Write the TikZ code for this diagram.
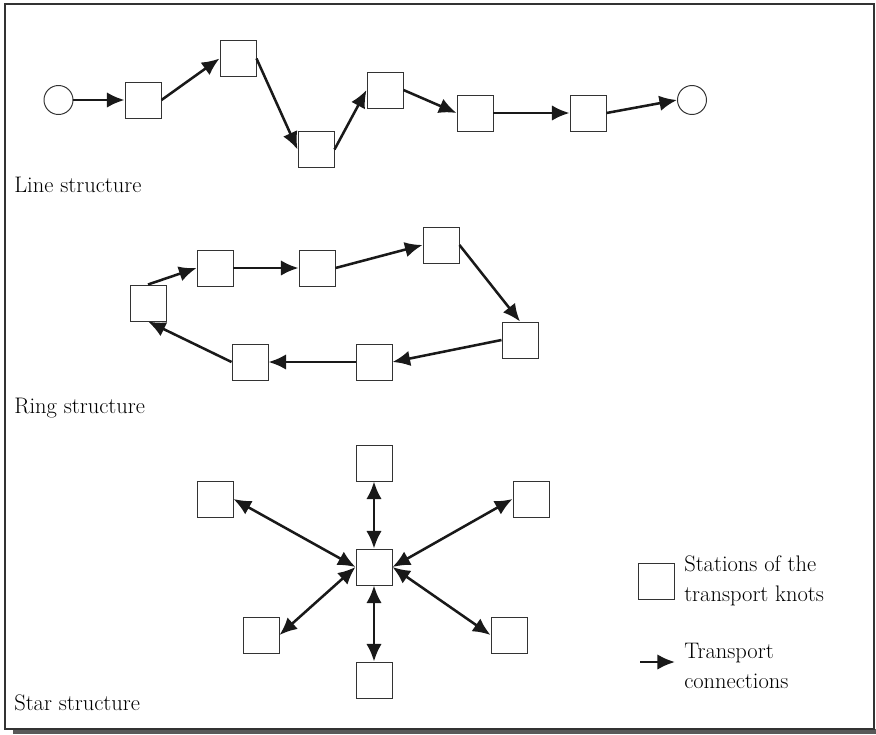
\documentclass[tikz,border=0pt]{standalone}
\usepackage{tikz}
\usetikzlibrary{positioning, arrows.meta}

\begin{document}
\begin{tikzpicture}[
  knot/.style={draw=black!80, fill=white, line width=0.7pt, minimum size=0.9cm, inner sep=0pt},
  endpt/.style={circle, draw=black!80, fill=white, line width=0.7pt, minimum size=0.725cm, inner sep=0pt},
  conn/.style={-{Latex[length=12.5pt, width=11pt]}, line width=1.8pt, black!90},
  biconn/.style={{Latex[length=12.5pt, width=11pt]}-{Latex[length=12.5pt, width=11pt]}, line width=1.8pt, black!90},
  lbl/.style={font=\fontsize{16}{21}\selectfont, text=black, inner sep=0pt},
]
  \useasboundingbox (0,0) rectangle (21.9,-18.35);
  % frame with shadow
  \fill[black!65] (0.325,-18.225) rectangle (21.9,-18.35);
  \draw[black!80, line width=0.8pt] (0.125,-0.1) rectangle (21.85,-18.225);

  % Line structure
  \node[endpt] (lstart) at (1.4625,-2.5) {};
  \node[knot] (l1) at (3.575,-2.5) {};
  \node[knot] (l2) at (5.95,-1.4625) {};
  \node[knot] (l3) at (7.9,-3.7375) {};
  \node[knot] (l4) at (9.625,-2.25) {};
  \node[knot] (l5) at (11.875,-2.825) {};
  \node[knot] (l6) at (14.7,-2.825) {};
  \node[endpt] (lend) at (17.3,-2.5) {};
  \foreach \a/\b in {lstart/l1, l1/l2, l2/l3, l3/l4, l4/l5, l5/l6, l6/lend} { \draw[conn] (\a.east) -- (\b.west); }
  \node[lbl, anchor=base west] (linelbl) at (0.35,-4.8) {Line structure};

  % Ring structure
  \node[knot] (r1) at (3.7,-7.575) {};
  \node[knot] (r2) at (5.375,-6.7) {};
  \node[knot] (r3) at (7.925,-6.7) {};
  \node[knot] (r4) at (11.025,-6.125) {};
  \node[knot] (r5) at (13.0,-8.5) {};
  \node[knot] (r6) at (9.35,-9.05) {};
  \node[knot] (r7) at (6.25,-9.05) {};
  \foreach \a/\b in {r1.north/r2.west, r2.east/r3.west, r3.east/r4.west, r4.east/r5.north,
                     r5.west/r6.east, r6.west/r7.east, r7.west/r1.south} { \draw[conn] (\a) -- (\b); }
  \node[lbl, anchor=base west] (ringlbl) at (0.35,-10.325) {Ring structure};

  % Star structure
  \node[knot] (s0) at (9.35,-14.175) {};
  \node[knot] (s1) at (9.35,-11.575) {};
  \node[knot] (s2) at (9.35,-17.0) {};
  \node[knot] (s3) at (5.375,-12.475) {};
  \node[knot] (s4) at (6.525,-15.875) {};
  \node[knot] (s5) at (13.275,-12.475) {};
  \node[knot] (s6) at (12.725,-15.875) {};
  \foreach \a/\b in {s1.south/s0.north, s2.north/s0.south, s3.east/s0.west,
                     s4.east/s0.west, s5.west/s0.east, s6.west/s0.east} { \draw[biconn] (\a) -- (\b); }
  \node[lbl, anchor=base west] (starlbl) at (0.35,-17.75) {Star structure};

  % legend
  \node[knot] (legbox) at (16.4,-14.525) {};
  \node[lbl, anchor=west, align=left] (legboxtxt) at (17.1,-14.525) {Stations of the\\transport knots};
  \coordinate (legA) at (16.0,-16.55);
  \coordinate (legB) at (16.875,-16.55);
  \draw[conn] (legA) -- (legB);
  \node[lbl, anchor=west, align=left] (legarrtxt) at (17.1,-16.65) {Transport\\connections};
\end{tikzpicture}
\end{document}
